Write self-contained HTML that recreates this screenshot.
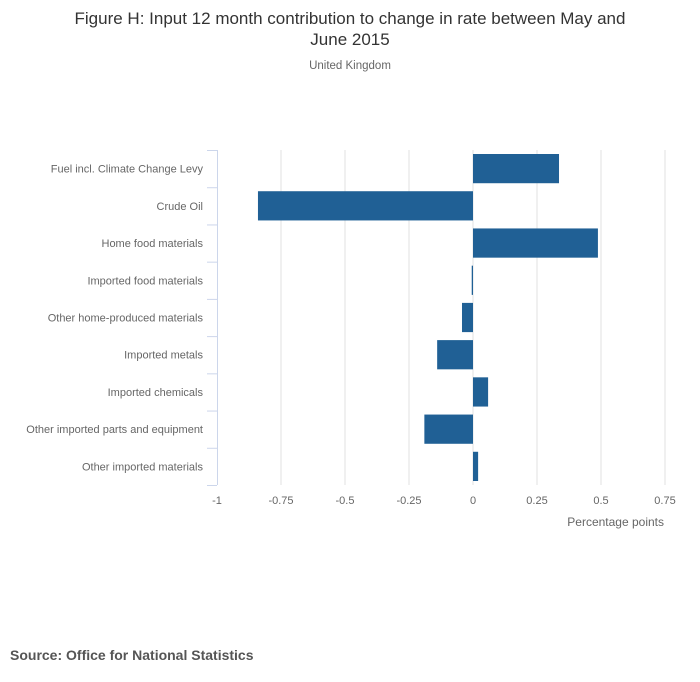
<!DOCTYPE html>
<html><head><meta charset="utf-8"><style>
html,body{margin:0;padding:0;background:#fff;width:700px;height:682px;overflow:hidden;font-family:"Liberation Sans",sans-serif}
</style></head><body>
<svg width="700" height="682" xmlns="http://www.w3.org/2000/svg" font-family="Liberation Sans, sans-serif">
<text x="350" y="24" text-anchor="middle" font-size="17" fill="#333">Figure H: Input 12 month contribution to change in rate between May and</text>
<text x="350" y="45" text-anchor="middle" font-size="17" fill="#333">June 2015</text>
<text x="350" y="69" text-anchor="middle" font-size="11.5" fill="#666">United Kingdom</text>
<g id="grid"></g><g id="bars"></g><g id="yaxis"></g><g id="xaxis"></g>
<text x="664" y="526" text-anchor="end" font-size="12" fill="#666">Percentage points</text>
<text x="10" y="660" font-size="14" font-weight="bold" fill="#555">Source: Office for National Statistics</text>
</svg>
<script>
const categories=["Fuel incl. Climate Change Levy","Crude Oil","Home food materials","Imported food materials","Other home-produced materials","Imported metals","Imported chemicals","Other imported parts and equipment","Other imported materials"];
const values=[0.336,-0.84,0.488,-0.005,-0.043,-0.14,0.059,-0.19,0.02];
const ticks=[-1,-0.75,-0.5,-0.25,0,0.25,0.5,0.75];
const tickLabels=["-1","-0.75","-0.5","-0.25","0","0.25","0.5","0.75"];
const NS="http://www.w3.org/2000/svg";
const xMin=-1,xMax=0.75,plotLeft=217,plotRight=665,plotTop=150,plotBottom=485;
const xs=v=>plotLeft+(v-xMin)/(xMax-xMin)*(plotRight-plotLeft);
const band=(plotBottom-plotTop)/categories.length;
const ys=i=>plotTop+i*band;
function mk(tag,attrs,parent){const e=document.createElementNS(NS,tag);for(const k in attrs)e.setAttribute(k,attrs[k]);document.getElementById(parent).appendChild(e);return e;}
ticks.forEach((t,i)=>{
 if(t!==xMin){const g=mk('line',{x1:xs(t),x2:xs(t),y1:plotTop,y2:plotBottom,stroke:'#e0e0e0','stroke-width':1},'grid');
 
 }
 const l=mk('text',{x:xs(t),y:504,'text-anchor':'middle','font-size':11,fill:'#666'},'xaxis');
 l.textContent=tickLabels[i];
 
 
});
const ax=mk('line',{x1:plotLeft+0.5,x2:plotLeft+0.5,y1:plotTop,y2:plotBottom,stroke:'#ccd6eb','stroke-width':1},'yaxis');


for(let i=0;i<=categories.length;i++){
 const tk=mk('line',{x1:plotLeft-10,x2:plotLeft,y1:ys(i)+0.5,y2:ys(i)+0.5,stroke:'#ccd6eb','stroke-width':1},'yaxis');
 
 
}
categories.forEach((c,i)=>{
 const l=mk('text',{x:203,y:ys(i)+band/2+4,'text-anchor':'end','font-size':11,fill:'#666'},'yaxis');
 l.textContent=c;
 
 
 const v=values[i];const x0=Math.min(xs(0),xs(v));const w=Math.max(Math.abs(xs(v)-xs(0)),1);
 const b=mk('rect',{x:x0,y:ys(i)+4,width:w,height:band-8,fill:'#206095'},'bars');
 
 
});
</script>
</body></html>
